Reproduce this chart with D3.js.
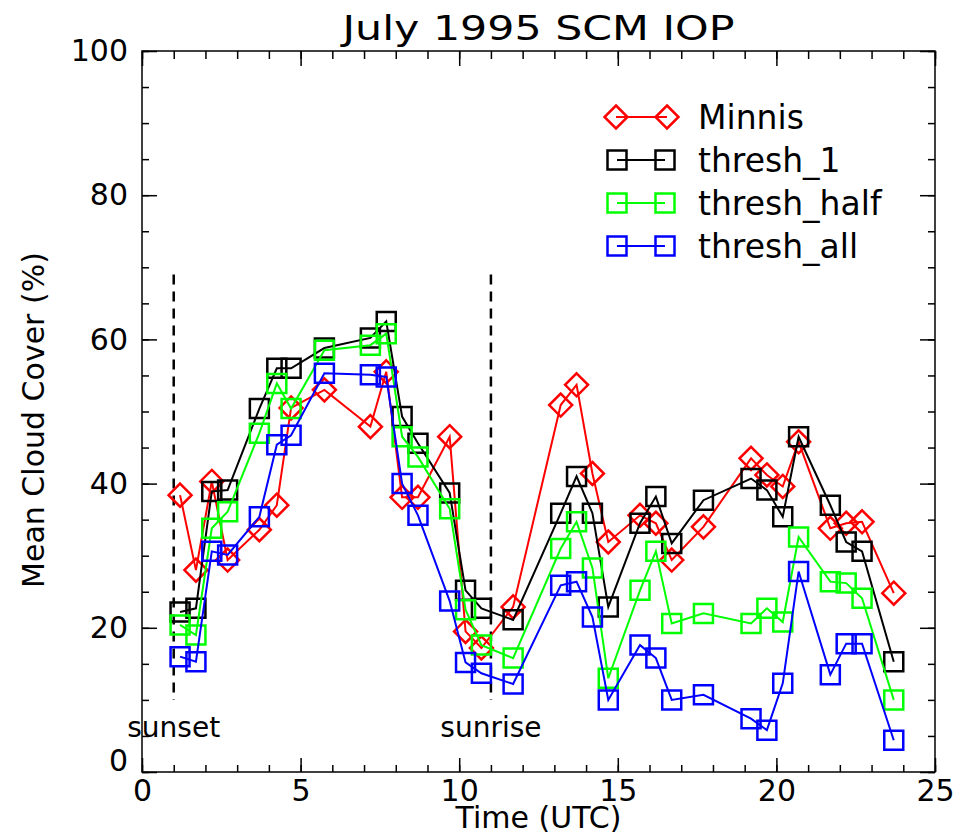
<!DOCTYPE html>
<html>
<head>
<meta charset="utf-8">
<script src="https://cdn.jsdelivr.net/npm/d3@7"></script>
<style>
  body { margin: 0; background: #fff; }
  text { font-family: "DejaVu Sans", sans-serif; fill: #000; }
</style>
</head>
<body>
<svg id="chart" width="956" height="836"></svg>
<script>
// time of each sample (UTC hours), shared by all series
var times = [1.2, 1.7, 2.2, 2.7, 3.7, 4.25, 4.7, 5.75, 7.2, 7.7, 8.2, 8.7,
  9.7, 10.2, 10.7, 11.7, 13.2, 13.7, 14.2, 14.7, 15.7, 16.2, 16.7, 17.7,
  19.2, 19.7, 20.2, 20.7, 21.7, 22.2, 22.7, 23.7];

var minnis = [38.4, 28.0, 40.3, 29.4, 33.6, 37.0, 50.5, 53.0, 47.9, 55.5, 38.1, 38.1,
  46.5, 19.5, 17.2, 22.9, 50.9, 53.7, 41.4, 31.9, 35.6, 34.5, 29.4, 34.0,
  43.5, 41.2, 39.6, 45.8, 33.8, 34.5, 34.7, 24.8];
var thresh1 = [22.2, 22.7, 38.9, 39.1, 50.4, 56.0, 56.0, 58.8, 60.2, 62.5, 49.3, 45.6,
  38.7, 25.2, 22.7, 21.1, 35.9, 41.0, 35.9, 22.9, 34.5, 38.2, 31.7, 37.7,
  40.7, 39.1, 35.4, 46.5, 37.0, 31.9, 30.6, 15.3];
var threshHalf = [20.4, 19.0, 33.8, 36.1, 47.0, 53.9, 50.4, 58.5, 59.2, 60.8, 46.5, 43.7,
  36.5, 22.5, 17.6, 15.8, 31.0, 34.7, 28.3, 13.0, 25.2, 30.6, 20.6, 22.0,
  20.6, 22.7, 20.8, 32.6, 26.4, 26.2, 24.1, 10.0];
var threshAll = [16.0, 15.3, 30.6, 30.1, 35.4, 45.4, 46.7, 55.3, 55.1, 54.8, 40.0, 35.6,
  23.7, 15.2, 13.7, 12.2, 25.9, 26.4, 21.5, 10.0, 17.6, 15.8, 10.0, 10.7,
  7.4, 5.8, 12.3, 27.8, 13.5, 17.8, 17.8, 4.4];

var seriesNames = ["Minnis", "thresh_1", "thresh_half", "thresh_all"];
var seriesColors = ["#ff0000", "#000000", "#00ff00", "#0000ff"];
var seriesSymbols = ["diamond", "square", "square", "square"];
var seriesValues = [minnis, thresh1, threshHalf, threshAll];

var xTicks = [0, 5, 10, 15, 20, 25];
var yTicks = [0, 20, 40, 60, 80, 100];
var eventTimes = [1, 11];
var eventLabels = ["sunset", "sunrise"];

var svg = d3.select("#chart");
var plotLeft = 142, plotRight = 935, plotTop = 51, plotBottom = 772;

var x = d3.scaleLinear().domain([0, 25]).range([plotLeft, plotRight]);
var y = d3.scaleLinear().domain([0, 100]).range([plotBottom, plotTop]);

// ticks on all four sides, pointing inward
function styleAxis(g) {
  g.select(".domain").remove();
  g.selectAll("line").attr("stroke", "#000").attr("stroke-width", 1.5);
  g.selectAll("text").style("font-size", "30px").attr("fill", "#000");
}
var xMinor = d3.range(0, 26, 1);
var yMinor = d3.range(0, 101, 5);

svg.append("g").attr("transform", "translate(0," + plotBottom + ")")
  .call(d3.axisBottom(x).tickValues(xMinor).tickSize(-7).tickFormat("")).call(styleAxis);
svg.append("g").attr("transform", "translate(0," + plotBottom + ")")
  .call(d3.axisBottom(x).tickValues(xTicks).tickSize(-14).tickPadding(8).tickFormat(d3.format("d")))
  .call(styleAxis);
svg.append("g").attr("transform", "translate(0," + plotTop + ")")
  .call(d3.axisTop(x).tickValues(xMinor).tickSize(-8).tickFormat("")).call(styleAxis);
svg.append("g").attr("transform", "translate(0," + plotTop + ")")
  .call(d3.axisTop(x).tickValues(xTicks).tickSize(-15).tickFormat("")).call(styleAxis);

svg.append("g").attr("transform", "translate(" + plotLeft + ",0)")
  .call(d3.axisLeft(y).tickValues(yMinor).tickSize(-7).tickFormat("")).call(styleAxis);
var yAxis = svg.append("g").attr("transform", "translate(" + plotLeft + ",0)")
  .call(d3.axisLeft(y).tickValues(yTicks).tickSize(-15).tickPadding(14).tickFormat(d3.format("d")))
  .call(styleAxis);
yAxis.selectAll("text").filter(function (d) { return d === 0; }).attr("dy", "-0.05em");
svg.append("g").attr("transform", "translate(" + plotRight + ",0)")
  .call(d3.axisRight(y).tickValues(yMinor).tickSize(-7).tickFormat("")).call(styleAxis);
svg.append("g").attr("transform", "translate(" + plotRight + ",0)")
  .call(d3.axisRight(y).tickValues(yTicks).tickSize(-15).tickFormat("")).call(styleAxis);

svg.append("rect")
  .attr("x", plotLeft).attr("y", plotTop)
  .attr("width", plotRight - plotLeft).attr("height", plotBottom - plotTop)
  .attr("fill", "none").attr("stroke", "#000").attr("stroke-width", 1.5);

// sunset / sunrise markers
svg.selectAll(".event")
  .data(eventTimes)
  .enter()
  .append("line")
  .attr("class", "event")
  .attr("x1", function (d) { return x(d); })
  .attr("x2", function (d) { return x(d); })
  .attr("y1", y(69))
  .attr("y2", y(10))
  .attr("stroke", "#000")
  .attr("stroke-width", 2.5)
  .attr("stroke-dasharray", "10,7");
svg.selectAll(".event-label")
  .data(eventTimes)
  .enter()
  .append("text")
  .attr("class", "event-label")
  .attr("x", function (d) { return x(d); })
  .attr("y", 737)
  .attr("text-anchor", "middle")
  .style("font-size", "28px")
  .text(function (d, i) { return eventLabels[i]; });

function symbolPath(type, cx, cy) {
  if (type === "diamond") {
    var r = 11.5;
    return "M" + cx + "," + (cy - r) + "L" + (cx + r) + "," + cy +
      "L" + cx + "," + (cy + r) + "L" + (cx - r) + "," + cy + "Z";
  }
  var h = 9.5;
  return "M" + (cx - h) + "," + (cy - h) + "h" + 2 * h + "v" + 2 * h + "h" + -2 * h + "Z";
}

var line = d3.line()
  .x(function (d) { return x(d[0]); })
  .y(function (d) { return y(d[1]); });

seriesValues.forEach(function (vals, i) {
  var pts = times.map(function (t, j) { return [t, vals[j]]; });
  var g = svg.append("g").attr("class", "series");
  g.append("path")
    .datum(pts)
    .attr("d", line)
    .attr("fill", "none")
    .attr("stroke", seriesColors[i])
    .attr("stroke-width", 2);
  g.selectAll("path.mark")
    .data(pts)
    .enter()
    .append("path")
    .attr("class", "mark")
    .attr("d", function (d) { return symbolPath(seriesSymbols[i], x(d[0]), y(d[1])); })
    .attr("fill", "none")
    .attr("stroke", seriesColors[i])
    .attr("stroke-width", 2.5);
});

// legend
var legend = svg.append("g").attr("class", "legend");
seriesNames.forEach(function (name, i) {
  var cy = 117 + i * 43;
  var x1 = i === 0 ? 616 : 617, x2 = i === 0 ? 667 : 665;
  legend.append("line")
    .attr("x1", x1).attr("x2", x2).attr("y1", cy).attr("y2", cy)
    .attr("stroke", seriesColors[i]).attr("stroke-width", 2);
  [x1, x2].forEach(function (cx) {
    legend.append("path")
      .attr("d", symbolPath(seriesSymbols[i], cx, cy))
      .attr("fill", "none")
      .attr("stroke", seriesColors[i])
      .attr("stroke-width", 2.5);
  });
  legend.append("text")
    .attr("x", 698).attr("y", cy + 12)
    .style("font-size", "33px")
    .text(name);
});

// titles
svg.append("text")
  .attr("x", (plotLeft + plotRight) / 2).attr("y", 40)
  .attr("text-anchor", "middle")
  .attr("textLength", 392).attr("lengthAdjust", "spacingAndGlyphs")
  .style("font-size", "34px")
  .text("July 1995 SCM IOP");
svg.append("text")
  .attr("x", (plotLeft + plotRight) / 2).attr("y", 828)
  .attr("text-anchor", "middle")
  .style("font-size", "30px")
  .text("Time (UTC)");
svg.append("text")
  .attr("transform", "translate(44," + 420 + ") rotate(-90)")
  .attr("text-anchor", "middle")
  .style("font-size", "30px")
  .text("Mean Cloud Cover (%)");
</script>
</body>
</html>
